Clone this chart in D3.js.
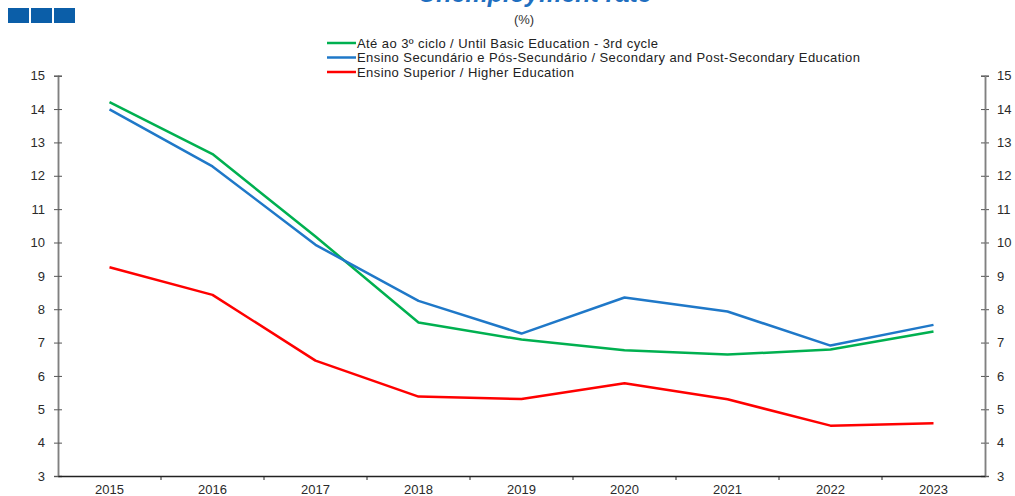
<!DOCTYPE html>
<html>
<head>
<meta charset="utf-8">
<script src="https://cdn.jsdelivr.net/npm/d3@7"></script>
<style>
  html, body { margin: 0; padding: 0; background: #fff; }
  svg { display: block; font-family: "Liberation Sans", Arial, sans-serif; }
</style>
</head>
<body>
<div id="chart"></div>
<script>
const years = ["2015","2016","2017","2018","2019","2020","2021","2022","2023"];
const basicEdu = [14.21, 12.65, 10.18, 7.60, 7.09, 6.77, 6.64, 6.79, 7.33];
const secondaryEdu = [13.99, 12.28, 9.93, 8.25, 7.27, 8.35, 7.93, 6.91, 7.53];
const higherEdu = [9.26, 8.43, 6.46, 5.38, 5.31, 5.78, 5.30, 4.51, 4.58];
const yTicks = [3,4,5,6,7,8,9,10,11,12,13,14,15];
const seriesNames = [
  "Até ao 3º ciclo / Until Basic Education - 3rd cycle",
  "Ensino Secundário e Pós-Secundário / Secondary and Post-Secondary Education",
  "Ensino Superior / Higher Education"
];
const seriesColors = ["#00b050", "#1f78c8", "#ff0000"];
const seriesValues = [basicEdu, secondaryEdu, higherEdu];

const W = 1015, H = 496;
const mLeft = 58, mRight = 985, mTop = 75.7, mBottom = 476;

const svg = d3.select("#chart").append("svg").attr("width", W).attr("height", H);

// header squares
const sq = svg.append("g");
[8, 31, 54].forEach(xx => sq.append("rect").attr("x", xx).attr("y", 8).attr("width", 21).attr("height", 15).attr("fill", "#0b5ea8"));

// title (cut off at top, as in the source)
svg.append("text").attr("x", 535).attr("y", 1.5).attr("text-anchor", "middle")
  .attr("font-size", 25).attr("font-weight", "bold").attr("font-style", "italic")
  .attr("fill", "#1f6fc0").text("Unemployment rate");

svg.append("text").attr("x", 524).attr("y", 24).attr("text-anchor", "middle")
  .attr("font-size", 13).attr("fill", "#333").text("(%)");

const x = d3.scaleBand().domain(years).range([mLeft, mRight]).padding(0);
const y = d3.scaleLinear().domain([3, 15]).range([mBottom, mTop]);

// left axis
const gl = svg.append("g").attr("transform", `translate(${mLeft},0)`);
gl.call(d3.axisLeft(y).tickValues(yTicks).tickSize(4).tickPadding(9).tickFormat(d3.format("d")));
gl.append("g").call(d3.axisRight(y).tickValues(yTicks).tickSize(4).tickFormat(""));
// right axis
const gr = svg.append("g").attr("transform", `translate(${mRight},0)`);
gr.call(d3.axisRight(y).tickValues(yTicks).tickSize(4).tickPadding(8).tickFormat(d3.format("d")));
gr.append("g").call(d3.axisLeft(y).tickValues(yTicks).tickSize(4).tickFormat(""));

[gl, gr].forEach(g => {
  g.selectAll(".domain").attr("stroke", "#808080").attr("stroke-width", 1.5);
  g.selectAll(".tick line").attr("stroke", "#555");
  g.selectAll("text").attr("font-size", 13).attr("fill", "#2a2a2a").attr("font-family", "Liberation Sans, Arial, sans-serif");
});

// x axis
const gx = svg.append("g").attr("transform", `translate(0,${mBottom})`);
gx.call(d3.axisBottom(x).tickSize(0).tickPadding(9));
gx.selectAll(".domain").attr("stroke", "#222").attr("stroke-width", 1.5);
gx.selectAll("text").attr("font-size", 13).attr("fill", "#2a2a2a").attr("font-family", "Liberation Sans, Arial, sans-serif");
gx.selectAll(".sep").data(years.slice(1)).enter().append("line")
  .attr("x1", d => x(d)).attr("x2", d => x(d)).attr("y1", 0).attr("y2", 4)
  .attr("stroke", "#222");

// lines
const line = d3.line().x((d, i) => x(years[i]) + x.bandwidth() / 2).y(d => y(d));
seriesValues.forEach((vals, i) => {
  svg.append("path").datum(vals).attr("d", line).attr("fill", "none")
    .attr("stroke", seriesColors[i]).attr("stroke-width", 2.5).attr("stroke-linejoin", "round");
});

// legend
const lg = svg.append("g");
seriesNames.forEach((n, i) => {
  const ly = 43 + i * 14.5;
  lg.append("line").attr("x1", 327).attr("x2", 356).attr("y1", ly).attr("y2", ly)
    .attr("stroke", seriesColors[i]).attr("stroke-width", 2.5);
  lg.append("text").attr("x", 357).attr("y", ly + 4.5).attr("font-size", 13)
    .attr("letter-spacing", 0.42).attr("fill", "#222").text(n);
});
</script>
</body>
</html>
